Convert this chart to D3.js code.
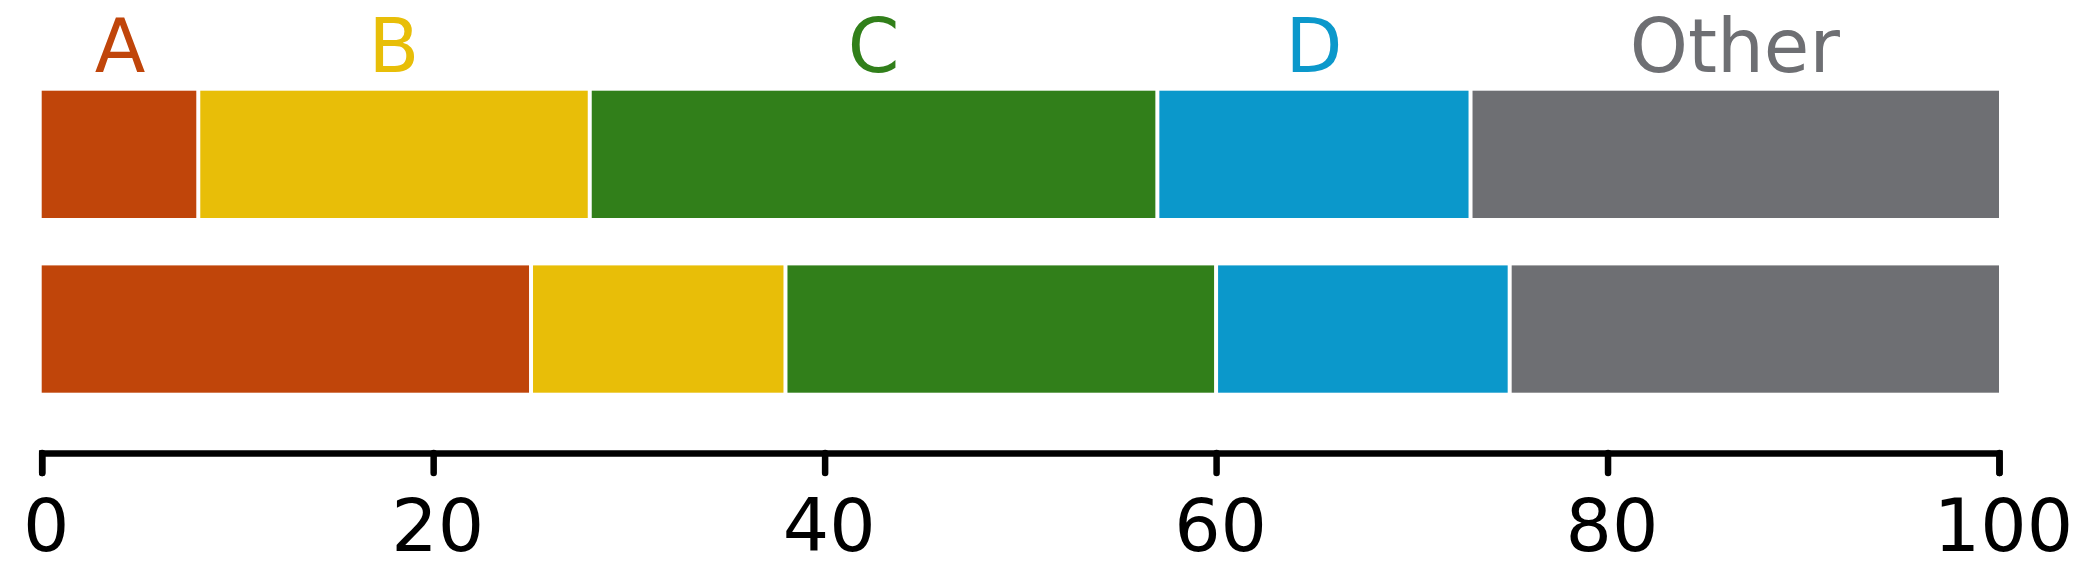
<!DOCTYPE html>
<html>
<head>
<meta charset="utf-8">
<script src="https://cdn.jsdelivr.net/npm/d3@7"></script>
<style>
  html, body { margin: 0; padding: 0; background: #ffffff; }
  svg { display: block; }
</style>
</head>
<body>
<svg id="chart" width="2091" height="568"></svg>
<script>
// ---- data ----
const categories = ["A", "B", "C", "D", "Other"];
const rows = ["Row 1", "Row 2"];
const row1Values = [8, 20, 29, 16, 27];
const row2Values = [25, 13, 22, 15, 25];
const tickValues = [0, 20, 40, 60, 80, 100];
const colors = ["#C0450A", "#E8BE08", "#317F1A", "#0B98CB", "#6E6F73"];

// ---- build table ----
const table = rows.map((r, i) => {
  const vals = i === 0 ? row1Values : row2Values;
  const o = { row: r };
  categories.forEach((c, j) => { o[c] = vals[j]; });
  return o;
});

const svg = d3.select("#chart");
svg.append("rect").attr("width", 2091).attr("height", 568).attr("fill", "#fff");

const x = d3.scaleLinear().domain([0, 100]).range([41.7, 1999]);
const y = d3.scaleBand().domain(rows).range([90.7, 392.7]).paddingInner(0.2713).paddingOuter(0);
const color = d3.scaleOrdinal().domain(categories).range(colors);

const series = d3.stack().keys(categories)(table);
const gap = 2;

const layers = svg.append("g").selectAll("g")
  .data(series).join("g")
  .attr("fill", d => color(d.key));

layers.selectAll("rect")
  .data(d => d)
  .join("rect")
  .attr("x", d => x(d[0]) + (d[0] > 0 ? gap : 0))
  .attr("y", d => y(d.data.row))
  .attr("height", y.bandwidth())
  .attr("width", d => x(d[1]) - x(d[0]) - (d[0] > 0 ? gap : 0) - (d[1] < 100 ? gap : 0));

// ---- category labels above first row ----
const topRow = series.map(s => ({ key: s.key, a: s[0][0], b: s[0][1] }));
svg.append("g").selectAll("text")
  .data(topRow).join("text")
  .attr("x", d => x((d.a + d.b) / 2))
  .attr("y", 71.5)
  .attr("text-anchor", "middle")
  .attr("font-family", "DejaVu Sans, Verdana, sans-serif")
  .attr("font-size", 74)
  .attr("fill", d => color(d.key))
  .text(d => d.key);

// ---- axis ----
const axis = d3.axisBottom(x)
  .tickValues(tickValues)
  .tickSize(20)
  .tickSizeOuter(20)
  .tickFormat(d3.format("d"));

const gAxis = svg.append("g")
  .attr("transform", "translate(0,453)")
  .call(axis);

gAxis.select(".domain")
  .attr("stroke", "#000")
  .attr("stroke-width", 6.5)
  .attr("stroke-linejoin", "miter")
  .attr("stroke-linecap", "round")
  .attr("fill", "none");

gAxis.selectAll(".tick line")
  .attr("stroke", "#000")
  .attr("stroke-width", 6.5)
  .attr("stroke-linecap", "round");

gAxis.selectAll(".tick text")
  .attr("y", 97.5)
  .attr("dy", null)
  .attr("dx", 4)
  .attr("fill", "#000")
  .attr("font-family", "DejaVu Sans, Verdana, sans-serif")
  .attr("font-size", 73);
</script>
</body>
</html>
